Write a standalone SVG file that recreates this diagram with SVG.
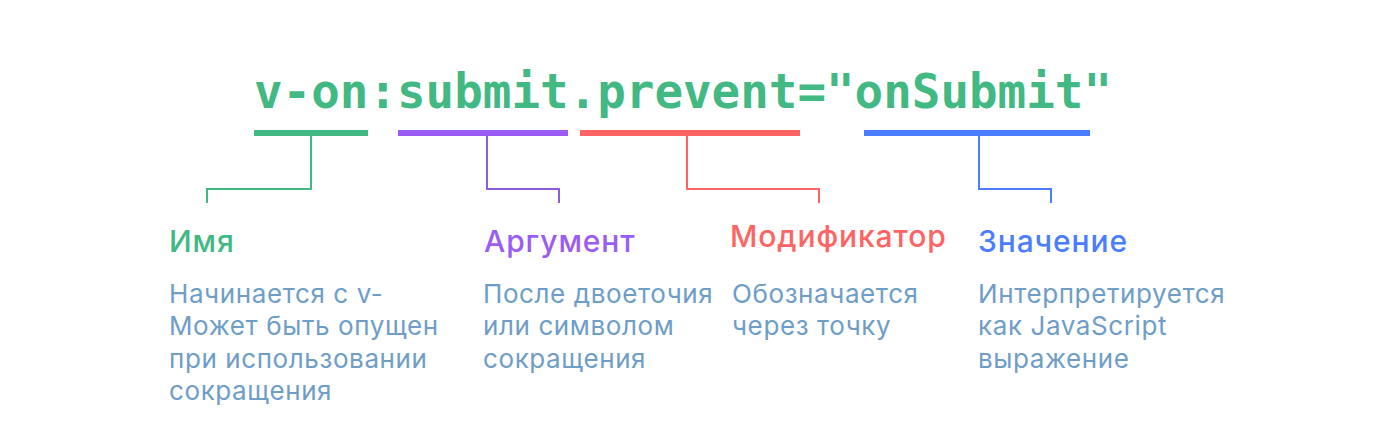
<svg xmlns="http://www.w3.org/2000/svg" width="1376" height="440" viewBox="0 0 1376 440">
<style>
.code{font-family:"DejaVu Sans Mono","Liberation Mono",monospace;font-weight:bold;font-size:48px;fill:#42B883}
.title{font-family:Inter,"Noto Sans",sans-serif;font-weight:500;font-size:30px;letter-spacing:0.9px}
.desc{font-family:Inter,"Noto Sans",sans-serif;font-size:26px;fill:#6E9DC8;letter-spacing:0.6px}
.conn{fill:none;stroke-width:2}
</style>
<rect width="1376" height="440" fill="#ffffff"/>
<g id="code">
<text class="code" x="254" y="108" textLength="858" lengthAdjust="spacingAndGlyphs">v-on:submit.prevent="onSubmit"</text>
</g>
<g id="bars">
<rect x="254" y="130" width="114" height="6" fill="#42B883"/>
<rect x="398" y="130" width="170" height="6" fill="#9B5CF6"/>
<rect x="580" y="130" width="220" height="6" fill="#FF6464"/>
<rect x="864" y="130" width="226" height="6" fill="#4A7DFF"/>
</g>
<g id="connectors">
<path class="conn" stroke="#42B883" d="M311 136 V189 H207 V203"/>
<path class="conn" stroke="#8E5CD6" d="M487 136 V189 H559 V203"/>
<path class="conn" stroke="#FF6464" d="M687 136 V189 H819 V203"/>
<path class="conn" stroke="#4A7DFF" d="M979 136 V189 H1051 V203"/>
</g>
<g id="name">
<text class="title" x="169" y="252" fill="#42B883">Имя</text>
<text class="desc" x="169" y="303">Начинается с v-</text>
<text class="desc" x="169" y="335">Может быть опущен</text>
<text class="desc" x="169" y="368">при использовании</text>
<text class="desc" x="169" y="400">сокращения</text>
</g>
<g id="argument">
<text class="title" x="484" y="252" fill="#9B5CF6">Аргумент</text>
<text class="desc" x="483" y="303">После двоеточия</text>
<text class="desc" x="483" y="335">или символом</text>
<text class="desc" x="483" y="368">сокращения</text>
</g>
<g id="modifier">
<text class="title" x="730" y="247" fill="#FF6464">Модификатор</text>
<text class="desc" x="732" y="303">Обозначается</text>
<text class="desc" x="732" y="335">через точку</text>
</g>
<g id="value">
<text class="title" x="978" y="252" fill="#4A7DFF">Значение</text>
<text class="desc" x="978" y="303">Интерпретируется</text>
<text class="desc" x="978" y="335">как JavaScript</text>
<text class="desc" x="978" y="368">выражение</text>
</g>
</svg>
